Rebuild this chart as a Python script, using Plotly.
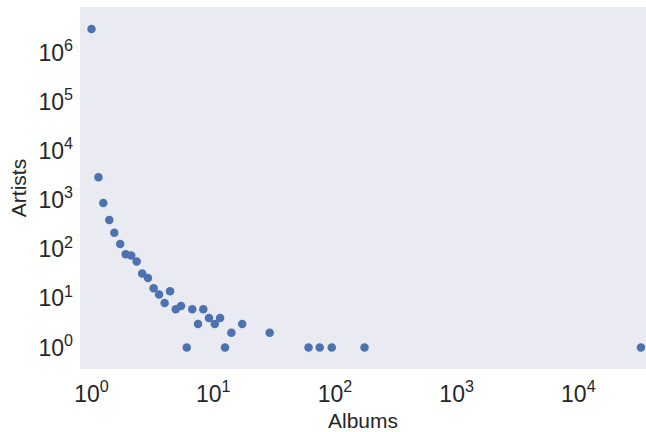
import plotly.graph_objects as go

# Albums per artist vs. number of artists (log-log)
albums = [1.0, 1.14, 1.25, 1.40, 1.54, 1.72, 1.91, 2.12, 2.35, 2.61, 2.91,
          3.24, 3.59, 4.42, 3.99, 4.92, 5.44, 6.73, 6.06, 7.50, 8.29, 9.23,
          10.3, 11.4, 14.1, 12.5, 17.3, 29.1, 60.7, 75.0, 94.2, 175.0, 32700.0]
artists = [3000000, 2890, 869, 392, 216, 127, 79, 74, 56, 32, 26,
           16, 12, 14, 8, 6, 7, 6, 1, 3, 6, 4,
           3, 4, 2, 1, 3, 2, 1, 1, 1, 1, 1]

x_tick_exps = [0, 1, 2, 3, 4]
y_tick_exps = [0, 1, 2, 3, 4, 5, 6]

text_color = "#262626"
font_family = "Liberation Sans, Arial, sans-serif"

fig = go.Figure(
    go.Scatter(
        x=albums,
        y=artists,
        mode="markers",
        marker=dict(color="#4C72B0", size=8.5, line=dict(width=0)),
        cliponaxis=True,
    )
)

fig.update_layout(
    width=646,
    height=432,
    margin=dict(l=80, r=0, t=7, b=63),
    paper_bgcolor="white",
    plot_bgcolor="#EAEAF2",
    font=dict(family=font_family, color=text_color, size=18),
    showlegend=False,
)

fig.update_xaxes(
    type="log",
    range=[-0.0945, 4.556],
    tickvals=[10 ** e for e in x_tick_exps],
    ticktext=[f"10<sup>{e}</sup>" for e in x_tick_exps],
    tickfont=dict(size=23, color=text_color),
    showgrid=False,
    zeroline=False,
    showline=False,
    ticks="",
    ticklabelstandoff=9,
    automargin=False,
    title=dict(text="Albums", font=dict(size=21, color=text_color), standoff=13),
)

fig.update_yaxes(
    type="log",
    range=[-0.437, 6.925],
    tickvals=[10 ** e for e in y_tick_exps],
    ticktext=[f"10<sup>{e}</sup>" for e in y_tick_exps],
    tickfont=dict(size=23, color=text_color),
    showgrid=False,
    zeroline=False,
    showline=False,
    ticks="",
    ticklabelstandoff=6,
    automargin=False,
    title=dict(text="Artists", font=dict(size=21, color=text_color), standoff=6),
)

fig.write_html("out.html")
